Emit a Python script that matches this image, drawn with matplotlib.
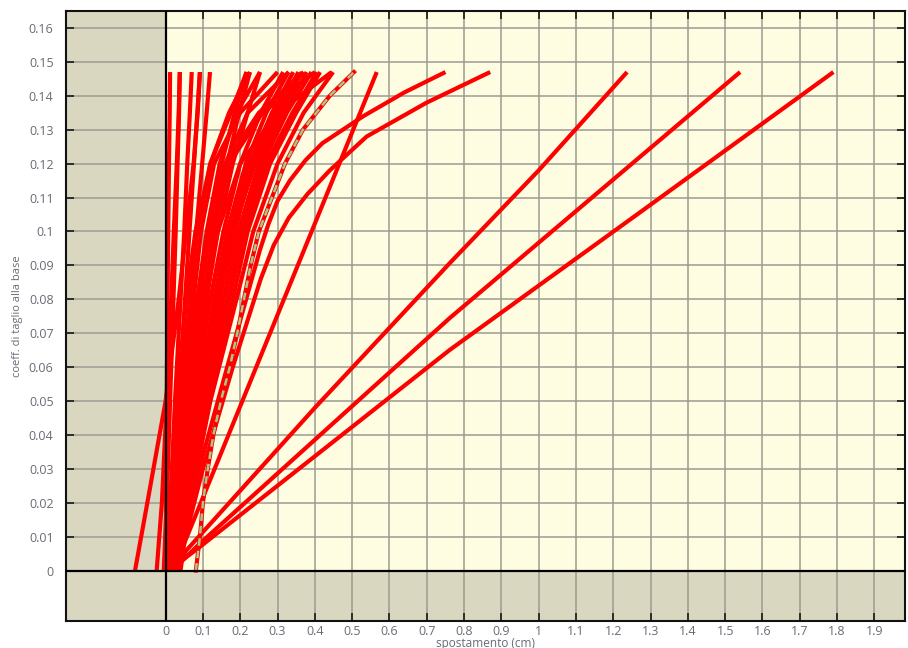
import numpy as np
import matplotlib.pyplot as plt

plt.rcParams['font.family'] = ['Open Sans', 'DejaVu Sans']

# common force levels for the bundle of pushover curves
y_levels = [0, 0.02, 0.05, 0.08, 0.10, 0.12, 0.135, 0.147]

# near vertical curves (stiff models)
stiff_x = [
    [0.000, 0.001, 0.003, 0.005, 0.007, 0.009, 0.011, 0.012],
    [-0.005, 0.003, 0.012, 0.021, 0.027, 0.032, 0.036, 0.038],
    [0.005, 0.013, 0.025, 0.040, 0.050, 0.058, 0.065, 0.070],
    [0.010, 0.020, 0.035, 0.052, 0.064, 0.076, 0.085, 0.092],
    [0.015, 0.028, 0.048, 0.068, 0.082, 0.098, 0.110, 0.119],
    [-0.082, -0.049, 0.000, 0.035, 0.055, 0.075, 0.086, 0.092],
    [-0.024, -0.010, 0.003, 0.015, 0.022, 0.030, 0.035, 0.038],
]

# main bundle
bundle_x = [
    [0.000, 0.015, 0.045, 0.085, 0.115, 0.150, 0.185, 0.217],
    [0.010, 0.025, 0.060, 0.100, 0.130, 0.165, 0.197, 0.226],
    [0.005, 0.030, 0.070, 0.110, 0.140, 0.180, 0.220, 0.253],
    [0.015, 0.035, 0.075, 0.120, 0.155, 0.200, 0.255, 0.315],
    [0.020, 0.040, 0.085, 0.130, 0.165, 0.215, 0.270, 0.329],
    [0.010, 0.035, 0.080, 0.135, 0.175, 0.225, 0.285, 0.342],
    [0.025, 0.050, 0.095, 0.145, 0.185, 0.235, 0.295, 0.356],
    [0.020, 0.045, 0.090, 0.140, 0.180, 0.240, 0.305, 0.365],
    [0.030, 0.055, 0.100, 0.155, 0.195, 0.250, 0.315, 0.378],
    [0.025, 0.055, 0.105, 0.165, 0.205, 0.260, 0.325, 0.391],
    [0.035, 0.060, 0.110, 0.170, 0.210, 0.270, 0.340, 0.405],
    [0.030, 0.060, 0.115, 0.180, 0.220, 0.280, 0.350, 0.414],
    [0.040, 0.065, 0.120, 0.190, 0.235, 0.300, 0.370, 0.449],
    [0.010, 0.025, 0.050, 0.075, 0.095, 0.130, 0.200, 0.300],
    [0.020, 0.035, 0.060, 0.090, 0.115, 0.160, 0.250, 0.370],
    [0.005, 0.020, 0.040, 0.065, 0.085, 0.120, 0.170, 0.226],
    [0.015, 0.030, 0.055, 0.085, 0.110, 0.145, 0.190, 0.253],
    [0.000, 0.012, 0.030, 0.055, 0.080, 0.120, 0.175, 0.217],
    [0.030, 0.050, 0.080, 0.110, 0.130, 0.170, 0.260, 0.400],
    [0.020, 0.040, 0.070, 0.105, 0.140, 0.200, 0.300, 0.445],
    [0.000, 0.020, 0.050, 0.090, 0.120, 0.160, 0.220, 0.330],
]

# flexible curves, each with its own points
wide_x = [
    [0.020, 0.566],
    [0.020, 0.090, 0.165, 0.253, 0.275, 0.300, 0.333, 0.375, 0.420, 0.530, 0.640, 0.750],
    [0.030, 0.100, 0.180, 0.255, 0.290, 0.330, 0.380, 0.440, 0.539, 0.700, 0.870],
    [0.020, 0.056, 0.400, 0.762, 1.000, 1.237],
    [0.015, 0.050, 0.092, 0.762, 1.540],
    [0.015, 0.050, 0.092, 0.762, 1.270, 1.790],
]
wide_y = [
    [0, 0.147],
    [0, 0.030, 0.060, 0.0946, 0.102, 0.109, 0.115, 0.121, 0.126, 0.134, 0.141, 0.147],
    [0, 0.030, 0.060, 0.086, 0.096, 0.104, 0.111, 0.118, 0.128, 0.138, 0.147],
    [0, 0.006, 0.048, 0.0907, 0.118, 0.147],
    [0, 0.0035, 0.008, 0.0745, 0.147],
    [0, 0.0035, 0.007, 0.0651, 0.1055, 0.147],
]

# mean curve (green dashed)
mean_x = [0.081, 0.092, 0.100, 0.113, 0.128, 0.148, 0.172, 0.192, 0.210,
          0.228, 0.250, 0.285, 0.320, 0.368, 0.440, 0.505]
mean_y = [0, 0.01, 0.02, 0.03, 0.04, 0.05, 0.06, 0.07, 0.08,
          0.09, 0.10, 0.11, 0.12, 0.13, 0.14, 0.147]

x_ticks = [round(0.1 * i, 1) for i in range(20)]
y_ticks = [round(0.01 * i, 2) for i in range(17)]

fig = plt.figure(figsize=(9.08, 6.48), dpi=100)
ax = fig.add_axes([0.0727, 0.042, 0.924, 0.941])
xmin, xmax = -0.267, 1.982
ymin, ymax = -0.0148, 0.165
ax.set_xlim(xmin, xmax)
ax.set_ylim(ymin, ymax)

ax.set_facecolor('#fefde1')
ax.axvspan(xmin, 0, color='#d9d7c0', zorder=0, lw=0)
ax.axhspan(ymin, 0, color='#d9d7c0', zorder=0, lw=0)

ax.set_xticks(x_ticks)
ax.set_yticks(y_ticks)
ax.set_xticklabels([f'{v:g}' for v in x_ticks])
ax.set_yticklabels([f'{v:g}' for v in y_ticks])
ax.grid(True, color='#9c9c92', lw=1.1, zorder=1)
ax.set_axisbelow(True)
ax.tick_params(direction='in', length=6, width=1.3, color='#222222',
               top=True, right=True, labelsize=9, labelcolor='#6a6a76')
ax.tick_params(axis='x', pad=3)
ax.tick_params(axis='y', pad=9)

red = '#ff0000'
lw = 3.0
for xs in stiff_x + bundle_x:
    ax.plot(xs, y_levels, color=red, lw=lw, solid_capstyle='butt', zorder=3)
for xs, ys in zip(wide_x, wide_y):
    ax.plot(xs, ys, color=red, lw=lw, solid_capstyle='butt', zorder=3)

ax.plot(mean_x, mean_y, color=red, lw=lw, zorder=4)
ax.plot(mean_x, mean_y, color='#a6c987', lw=1.8, ls=(0, (3, 2)), zorder=5)

ax.axvline(0, color='black', lw=1.6, zorder=6)
ax.axhline(0, color='black', lw=1.6, zorder=6)
for s in ax.spines.values():
    s.set_linewidth(1.5)
    s.set_color('#111111')

ax.set_xlabel('spostamento (cm)', fontsize=8.5, color='#6a6a76', labelpad=-1)
ax.set_ylabel('coeff. di taglio alla base', fontsize=8, color='#6a6a76', labelpad=4)

fig.savefig('out.png', dpi=100)
